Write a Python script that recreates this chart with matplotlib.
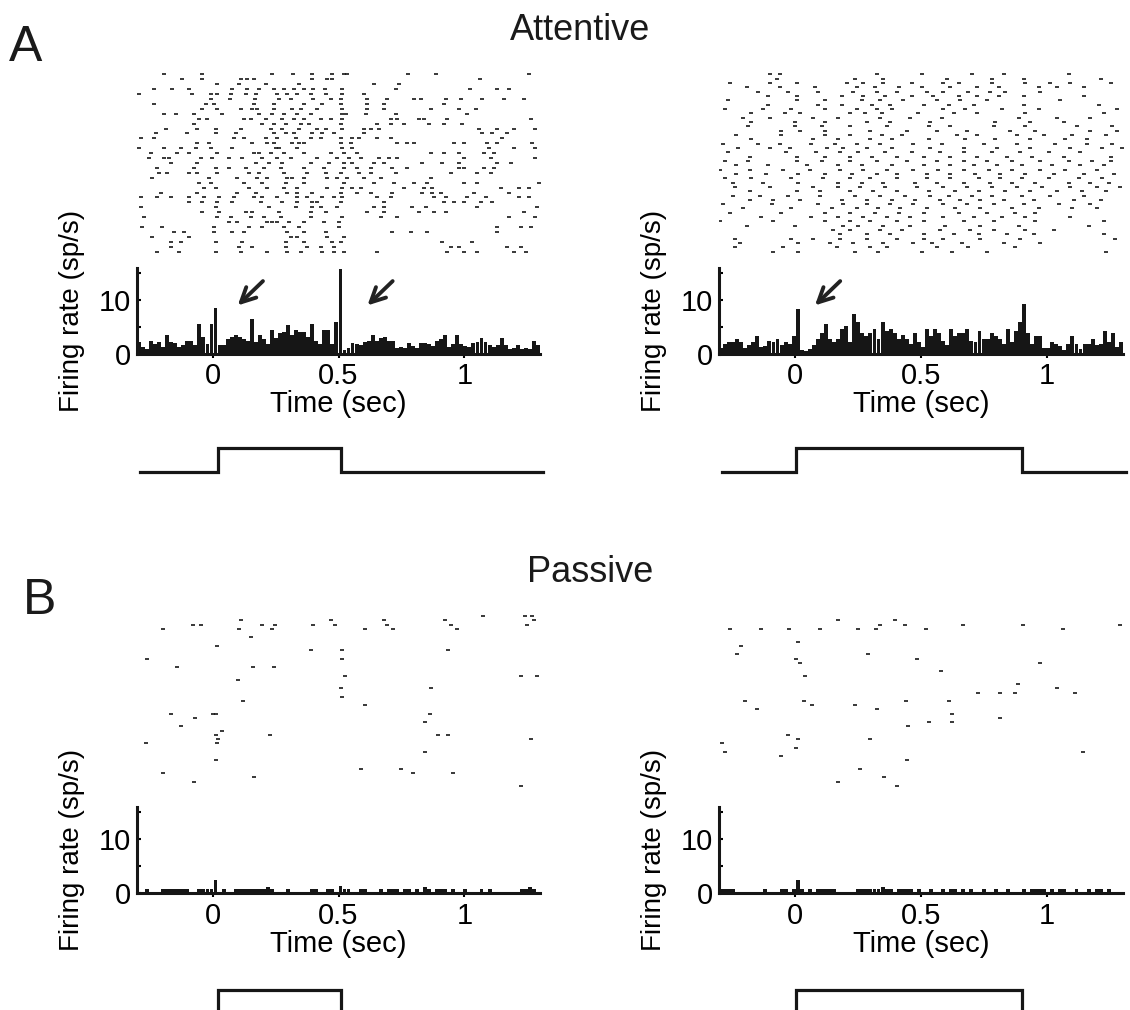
import numpy as np
import matplotlib
matplotlib.use("Agg")
import matplotlib.pyplot as plt

plt.rcParams['font.family'] = ['Liberation Sans', 'DejaVu Sans']

W, H = 1130, 1010
BIN = 0.016      # PSTH bin width (s)
T0 = -0.3        # first bin edge (s)
XLIM = (-0.3, 1.3)

# ---- PSTH values (sp/s), 16 ms bins from -0.3 s ----
psth_att_left = [
    2.2, 1.3, 1.0, 2.5, 1.9, 2.2, 1.3, 3.6, 2.2, 2.1, 1.3, 1.6, 2.5, 2.5, 1.6, 5.5, 3.1, 1.9, 5.5,
    8.5,
    1.6, 1.6, 2.8, 3.1, 3.6, 3.1, 2.8, 2.5, 6.4, 2.2, 3.6, 2.8, 1.9, 4.5, 3.0, 3.9, 4.1, 5.4, 3.5,
    4.5, 4.1, 4.1, 3.1, 5.5, 2.5, 1.9, 4.5, 4.5, 1.9,
    5.9, 15.8,
    0.7, 1.1, 2.1, 1.9, 1.6, 2.3, 2.5, 3.6, 2.5, 3.0, 3.1, 2.5, 2.5, 1.1, 1.3, 1.1, 2.0, 1.5, 1.1,
    2.1, 2.1, 1.9, 1.5, 2.5, 2.7, 3.6, 1.3, 1.9, 3.6, 1.9, 1.5, 1.3, 2.0, 2.3, 3.0, 2.2, 1.6, 1.3,
    1.7, 3.0, 1.6, 0.9, 1.1, 1.6, 0.9, 1.1, 0.9, 2.5, 1.6,
]
psth_att_right = [
    1.1, 1.9, 2.2, 2.2, 2.7, 2.2, 1.1, 1.6, 2.2, 3.3, 1.3, 1.5, 2.4, 2.2, 2.7, 1.6, 2.2, 1.9, 3.3,
    8.4,
    0.7, 0.5, 1.0, 1.7, 2.8, 3.8, 5.6, 2.7, 2.3, 2.8, 4.7, 5.2, 2.2, 7.5, 5.9, 3.8, 3.3, 3.8, 4.7,
    2.8, 6.0, 4.2, 4.6, 3.8, 2.8, 3.6, 2.7, 1.9, 3.8, 2.2,
    1.3, 4.7, 3.3, 4.7, 3.8, 2.4, 1.6, 4.7, 3.3, 3.8, 3.8, 4.7, 2.4, 2.2, 4.3, 2.8, 2.8, 3.8, 3.3,
    2.8, 1.9, 4.7, 2.2, 4.3, 6.0,
    9.3,
    3.8, 1.9, 3.3, 3.3, 1.1, 1.1, 2.3, 1.9, 1.5, 0.7, 1.9, 3.3, 1.9, 0.9, 1.9, 1.9, 2.8, 1.6, 1.9,
    4.3, 2.2, 3.8, 1.3, 2.2,
]
psth_pas_left = [
    0, 0, 0.8, 0, 0, 0, 0.8, 0.8, 0.8, 0.8,
    0.8, 0.8, 0.8, 0, 0, 0.8, 0.8, 0.8, 0.8, 2.4,
    0, 0.8, 0, 0, 0.8, 0.8, 0.8, 0.8, 0.8, 0.8,
    0.8, 0.8, 1.1, 0.8, 0, 0, 0, 0.8, 0, 0,
    0, 0, 0, 0.8, 0.8, 0, 0, 0.8, 0.8, 0,
    1.4, 0.8, 0.8, 0, 0, 0.8, 0.8, 0, 0, 0,
    0.8, 0, 0.8, 0.8, 0.8, 0, 0.8, 0.8, 0, 0.8,
    0, 1.1, 0.8, 0, 0.8, 0.8, 0.8, 0, 0.8, 0,
    0, 0.8, 0, 0, 0, 0.8, 0, 0.8, 0, 0,
    0, 0, 0, 0, 0, 0.8, 0.8, 1.1, 0.8, 0,
]
psth_pas_right = [
    0.9, 0.8, 0.8, 0.8, 0, 0, 0, 0, 0, 0,
    0, 0.8, 0, 0, 0, 0.8, 0.8, 0, 0.8, 2.4,
    0.8, 0, 0.8, 0, 0.8, 0.8, 0.8, 0.8, 0.8, 0,
    0, 0, 0, 0, 0.8, 0.8, 0.8, 0.8, 0.8, 0.8,
    1.1, 0.8, 0.8, 0, 0.8, 0.8, 0.8, 0.8, 0, 0.8,
    0, 0, 0.8, 0, 0, 0.8, 0, 0.8, 0.8, 0,
    0.8, 0, 0.8, 0, 0, 0.8, 0, 0, 0.8, 0,
    0, 0.8, 0, 0, 0, 0.8, 0, 0.8, 0.8, 0.8,
    0.8, 0, 0.8, 0, 0.8, 0.8, 0, 0, 0.8, 0,
    0, 0.8, 0, 0.8, 0.8, 0, 0.8, 0, 0, 0,
]

# ---- stimulus on/off times (s) ----
stim_left = (0.02, 0.51)
stim_right = (0.005, 0.90)
trace_span = (-0.29, 1.31)

# ---- raster spike times, one list per trial (ms) ----
att_left_trials = [
    [-193, -43, 237, 319, 396, 475, 522, 535, 776, 887, 1256],
    [-120, -41, 112, 138, 165, 396, 456, 475, 1062],
    [19, 105, 213, 343, 641, 740],
    [-232, -160, -93, 79, 138, 184, 244, 284, 323, 363, 400, 446, 515, 727, 1024, 1130, 1177],
    [-292, -80, -7, 19, 72, 131, 171, 257, 297, 336, 389, 449, 515, 601],
    [-7, 69, 167, 264, 310, 400, 469, 511, 614, 691, 799, 826, 925, 985, 1071, 1157, 1236],
    [-232, -27, 6, 165, 244, 363, 436, 508, 614, 680, 919],
    [-41, 19, 112, 158, 178, 244, 317, 350, 416, 515, 614, 680, 866, 978, 1044],
    [-193, -146, -74, 39, 184, 237, 284, 336, 389, 515, 528, 608, 727, 1011],
    [-54, -21, 125, 151, 211, 277, 323, 363, 429, 469, 515, 707, 733, 819, 839, 932, 1263],
    [-74, 198, 244, 290, 350, 383, 508, 654, 707, 760, 859, 919, 991],
    [-186, -60, 12, 112, 231, 277, 343, 416, 449, 515, 601, 628, 661, 1058, 1130, 1196, 1282],
    [-226, -100, 12, 92, 244, 290, 323, 396, 436, 482, 601, 1071, 1110, 1170],
    [-285, -232, 85, 125, 211, 257, 330, 389, 429, 508, 555, 581, 654, 707, 1150],
    [-60, -14, 158, 217, 244, 317, 343, 363, 508, 548, 733, 773, 799, 958, 998, 1091, 1130, 1269],
    [-292, -193, -127, -67, -7, 79, 250, 264, 336, 515, 555, 1097, 1196, 1282],
    [-246, -140, -93, 19, 165, 184, 231, 284, 363, 469, 522, 575, 866, 919, 978, 1077, 1117],
    [-252, -193, -173, -47, -1, 65, 118, 198, 257, 310, 416, 495, 542, 588, 661, 700, 733, 998, 1104, 1282],
    [-166, -60, 171, 224, 277, 389, 462, 522, 555, 641, 680, 833, 912, 978, 1130, 1183],
    [-219, -74, 12, 65, 131, 204, 270, 363, 442, 522, 575, 628, 714, 773, 978, 998, 1077, 1117],
    [-213, -180, -93, -60, 19, 145, 184, 284, 376, 449, 508, 581, 628, 727, 945, 1051, 1104],
    [-239, -14, 98, 178, 217, 297, 317, 363, 456, 495, 535, 601, 667, 866],
    [-54, -7, 125, 198, 290, 363, 522, 641, 720, 799, 852, 998, 1051, 1296],
    [-34, 12, 145, 217, 284, 336, 456, 515, 555, 588, 760, 839, 872, 1144, 1216, 1256],
    [-206, -60, 98, 171, 297, 336, 396, 508, 575, 628, 714, 833, 872, 905, 1038, 1177],
    [-285, -219, -166, -93, -34, 26, 85, 165, 198, 257, 336, 376, 436, 482, 515, 654, 707, 879, 925, 1011, 1084, 1216, 1256],
    [-93, -41, 19, 79, 191, 277, 336, 396, 416, 508, 680, 919, 958, 998, 1064, 1110],
    [-285, 12, 224, 330, 396, 429, 495, 641, 680, 793, 846, 1051, 1289],
    [-41, 26, 131, 158, 264, 389, 449, 614, 680, 819, 879, 925, 1236],
    [-272, 19, 72, 151, 204, 270, 389, 515, 667, 733, 1177, 1282],
    [65, 98, 217, 237, 257, 303, 363, 442, 502],
    [-279, -199, 6, 145, 198, 284, 343, 502, 1130, 1223, 1263],
    [-153, -113, 6, 79, 125, 297, 363, 449, 714, 786, 852, 1130],
    [-239, -93, 310, 336, 456, 522],
    [-166, -127, 12, 118, 290, 363, 475, 508, 912, 1031],
    [-166, 105, 158, 290, 376, 429, 482, 945, 978, 1170, 1223],
    [-219, -133, 12, 112, 217, 297, 350, 436, 482, 522, 654, 932, 998, 1051, 1196, 1243],
]
att_right_trials = [
    [-99, -59, 324, 503, 702, 827, 1085],
    [-72, 238, 351, 602, 781, 907, 1211],
    [-258, -99, 7, 205, 272, 351, 464, 589, 649, 781, 913, 1012, 1092, 1251],
    [-191, -59, 80, 245, 318, 411, 503, 616, 721, 807, 966, 1039, 1145],
    [-145, -26, 93, 232, 324, 404, 523, 589, 688, 774, 834, 973],
    [-105, 7, 186, 272, 358, 464, 549, 649, 721, 807, 907, 1145],
    [-264, 7, 119, 265, 338, 430, 563, 655, 761, 1052],
    [-105, 93, 186, 305, 377, 510, 609, 708, 907, 1204],
    [-277, -125, -13, 119, 245, 324, 384, 589, 675, 821, 966, 1277],
    [-172, -39, 20, 219, 278, 344, 490, 629, 721, 913, 1224],
    [-205, -99, 73, 172, 338, 457, 583, 887, 1039, 1171],
    [-172, 0, 119, 285, 377, 536, 794, 933, 1065],
    [-185, 0, 106, 219, 364, 530, 616, 788, 913, 1118, 1257],
    [-53, 20, 119, 298, 444, 563, 682, 854, 953, 1171, 1277],
    [-231, -53, 119, 219, 344, 424, 642, 721, 880, 986, 1098, 1231],
    [-172, 73, 172, 298, 384, 530, 675, 794, 933, 1072, 1158],
    [-284, -145, -59, 66, 159, 245, 338, 470, 583, 748, 880, 1032, 1158, 1257],
    [-225, -99, -19, 126, 192, 285, 384, 536, 669, 801, 933, 1092, 1217, 1297],
    [-264, -33, 86, 179, 252, 358, 464, 576, 669, 781, 893, 1006, 1131],
    [-178, 7, 119, 219, 305, 404, 510, 616, 721, 840, 940, 1065, 1251],
    [-277, -185, 7, 106, 219, 324, 444, 563, 669, 761, 860, 973, 1085, 1178, 1251],
    [-231, -105, 47, 172, 265, 384, 510, 616, 708, 801, 900, 1019, 1131, 1224],
    [-297, -178, -46, 60, 179, 272, 364, 470, 569, 669, 768, 860, 973, 1072, 1198],
    [-231, -112, 14, 119, 225, 324, 404, 523, 616, 715, 814, 913, 1026, 1145, 1264],
    [-277, -172, -13, 113, 219, 298, 404, 523, 616, 728, 814, 900, 1006, 1125, 1217],
    [-244, -125, 14, 172, 265, 351, 477, 563, 669, 774, 860, 953, 1085, 1171, 1244],
    [-238, -99, 73, 172, 258, 358, 483, 589, 682, 781, 880, 979, 1092, 1198, 1290],
    [-178, 7, 100, 219, 311, 404, 530, 635, 728, 834, 933, 1039, 1138, 1231],
    [-244, -139, -26, 100, 238, 338, 437, 536, 609, 702, 781, 900, 1012, 1145],
    [-178, -86, 20, 186, 285, 384, 477, 576, 655, 735, 827, 946, 1105, 1211],
    [-284, -92, 93, 192, 285, 377, 470, 589, 682, 788, 907, 1045, 1171],
    [-205, -13, 146, 245, 331, 417, 523, 635, 735, 860, 966, 1098, 1198],
    [-258, -53, 119, 219, 318, 411, 510, 649, 761, 874, 953],
    [-132, 66, 172, 272, 364, 457, 589, 708, 821, 913, 1092],
    [-297, -86, 119, 219, 298, 404, 510, 669, 788, 953, 1224],
    [-191, 0, 192, 252, 351, 457, 596, 735, 887, 1165],
    [152, 219, 338, 424, 576, 695, 788, 913, 1026],
    [179, 285, 377, 510, 629, 728, 840, 946, 1224],
    [-238, -13, 73, 179, 285, 404, 510, 589, 735, 893, 1270],
    [-218, 14, 139, 232, 351, 470, 543, 662, 827, 973],
    [-238, -46, 166, 298, 364, 563, 688, 874],
    [-86, 14, 238, 331, 503, 622, 761, 1231],
]
# passive rasters: (time s, trial)
pas_left_spikes = [
    (-0.197, 3), (-0.078, 2), (-0.044, 2), (0.112, 1), (0.104, 3), (0.196, 2), (0.235, 3),
    (0.247, 2), (0.152, 5), (0.398, 2), (0.469, 1), (0.485, 2), (0.604, 3), (0.680, 1),
    (0.692, 2), (0.715, 3), (0.922, 1), (0.946, 2), (0.969, 3), (1.073, 0), (1.239, 0),
    (1.267, 0), (1.250, 2), (1.277, 1), (0.017, 7), (0.390, 8), (0.513, 8), (0.513, 10),
    (0.934, 8), (-0.261, 10), (-0.142, 12), (0.160, 12), (0.243, 12), (0.100, 15),
    (0.525, 14), (1.223, 14), (1.287, 14), (0.866, 17), (0.509, 17), (0.513, 19),
    (0.120, 20), (0.604, 21), (-0.165, 23), (-0.070, 24), (0.000, 23), (0.012, 23),
    (0.862, 23), (-0.126, 26), (0.843, 25), (0.037, 27), (0.013, 28), (0.227, 28),
    (0.894, 28), (0.934, 28), (-0.265, 30), (0.021, 29), (0.017, 30), (1.264, 29),
    (0.843, 32), (0.013, 34), (-0.197, 37), (0.163, 38), (0.589, 36), (0.747, 36),
    (0.795, 37), (0.954, 37), (-0.074, 39), (1.223, 40),
]
pas_right_spikes = [
    (-0.258, 3), (-0.230, 9), (-0.214, 7), (-0.135, 3), (-0.024, 3), (0.012, 6), (0.004, 10),
    (0.020, 11), (0.040, 14), (0.099, 3), (0.171, 1), (0.250, 3), (0.321, 3), (0.337, 2),
    (0.397, 1), (0.437, 2), (0.484, 10), (0.520, 3), (0.667, 2), (0.905, 2), (1.290, 2),
    (0.036, 20), (0.067, 21), (0.238, 21), (0.325, 22), (0.440, 20), (0.611, 20),
    (0.623, 23), (0.623, 25), (0.972, 11), (1.040, 17), (1.111, 18), (0.813, 18),
    (1.063, 3), (-0.290, 30), (-0.278, 32), (-0.028, 28), (0.004, 31), (0.012, 29),
    (0.444, 34), (0.405, 40), (0.353, 38), (0.171, 39), (-0.056, 33), (0.258, 36),
    (0.298, 29), (1.143, 32), (0.885, 16), (0.726, 18), (0.873, 18), (0.579, 13),
    (0.448, 26), (-0.198, 20), (-0.151, 22), (0.290, 9), (0.532, 25), (0.813, 24),
]

# arrows on PSTHs: (tail t, tail rate, head t, head rate)
arrows_left = [(0.2, 13.5, 0.1, 9.0), (0.715, 13.5, 0.615, 9.0)]
arrows_right = [(0.18, 13.5, 0.08, 9.0)]

INK = '#161616'
fig = plt.figure(figsize=(W / 100, H / 100), dpi=100)


def px_axes(x0, y0, x1, y1):
    return fig.add_axes([x0 / W, 1 - y1 / H, (x1 - x0) / W, (y1 - y0) / H])


def raster(ax, times, trials, n):
    ax.plot(times, trials, ls='none', marker='_', ms=3.4, mew=1.2, color=INK)
    ax.set_xlim(*XLIM)
    ax.set_ylim(n - 0.5, -0.5)
    ax.axis('off')


def psth(ax, vals, arrows=()):
    vals = np.asarray(vals)
    edges = T0 + BIN * np.arange(len(vals))
    ax.bar(edges, vals, width=BIN * 0.97, align='edge', color=INK, lw=0)
    ax.set_xlim(*XLIM)
    ax.set_ylim(0, 16)
    for s in ('top', 'right'):
        ax.spines[s].set_visible(False)
    for s in ('left', 'bottom'):
        ax.spines[s].set_linewidth(2.2)
        ax.spines[s].set_color(INK)
    ax.set_yticks([0, 5, 10, 15])
    ax.set_yticklabels(['0', '', '10', ''])
    ax.set_xticks([0, 0.5, 1])
    ax.set_xticklabels(['0', '0.5', '1'])
    ax.tick_params(axis='y', direction='in', length=3, width=1.5, labelsize=21, pad=4)
    ax.tick_params(axis='x', direction='out', length=3, width=1.5, labelsize=21, pad=3)
    ax.set_xlabel('Time (sec)', fontsize=21, labelpad=0)
    ax.set_ylabel('Firing rate (sp/s)', fontsize=20, labelpad=10)
    for tx, ty, hx, hy in arrows:
        ax.annotate('', xy=(hx, hy), xytext=(tx, ty),
                    arrowprops=dict(arrowstyle='->', lw=2.8, color='#222222',
                                    mutation_scale=26, shrinkA=0, shrinkB=0))


def stim(ax, on_off):
    on, off = on_off
    xs = [trace_span[0], on, on, off, off, trace_span[1]]
    ys = [0, 0, 1, 1, 0, 0]
    ax.plot(xs, ys, color=INK, lw=2.3, solid_joinstyle='miter', clip_on=False)
    ax.set_xlim(*XLIM)
    ax.set_ylim(0, 1)
    ax.axis('off')


cols = [(137, 540), (719, 1123)]

# ---- A: attentive ----
for (x0, x1), trials_ms in zip(cols, [att_left_trials, att_right_trials]):
    ax = px_axes(x0, 72, x1, 254)
    tt, rr = [], []
    for i, row in enumerate(trials_ms):
        tt += [v / 1000 for v in row]
        rr += [i] * len(row)
    raster(ax, tt, rr, len(trials_ms))

psth(px_axes(137, 267.6, 540, 354), psth_att_left, arrows_left)
psth(px_axes(719, 267.6, 1123, 354), psth_att_right, arrows_right)
stim(px_axes(137, 448, 540, 472), stim_left)
stim(px_axes(719, 448, 1123, 472), stim_right)

# ---- B: passive ----
for (x0, x1), spikes in zip(cols, [pas_left_spikes, pas_right_spikes]):
    ax = px_axes(x0, 614, x1, 788)
    raster(ax, [s[0] for s in spikes], [s[1] for s in spikes], 41)

psth(px_axes(137, 807, 540, 893.4), psth_pas_left)
psth(px_axes(719, 807, 1123, 893.4), psth_pas_right)
stim(px_axes(137, 990, 540, 1014), stim_left)
stim(px_axes(719, 990, 1123, 1014), stim_right)

fig.text(9 / W, 1 - 48 / H, 'A', fontsize=36, ha='left', va='center', color='#1a1a1a')
fig.text(580 / W, 1 - 30 / H, 'Attentive', fontsize=26, ha='center', va='center', color='#1a1a1a')
fig.text(23 / W, 1 - 601 / H, 'B', fontsize=36, ha='left', va='center', color='#1a1a1a')
fig.text(590 / W, 1 - 573 / H, 'Passive', fontsize=26, ha='center', va='center', color='#1a1a1a')

fig.savefig('out.png', dpi=100)
